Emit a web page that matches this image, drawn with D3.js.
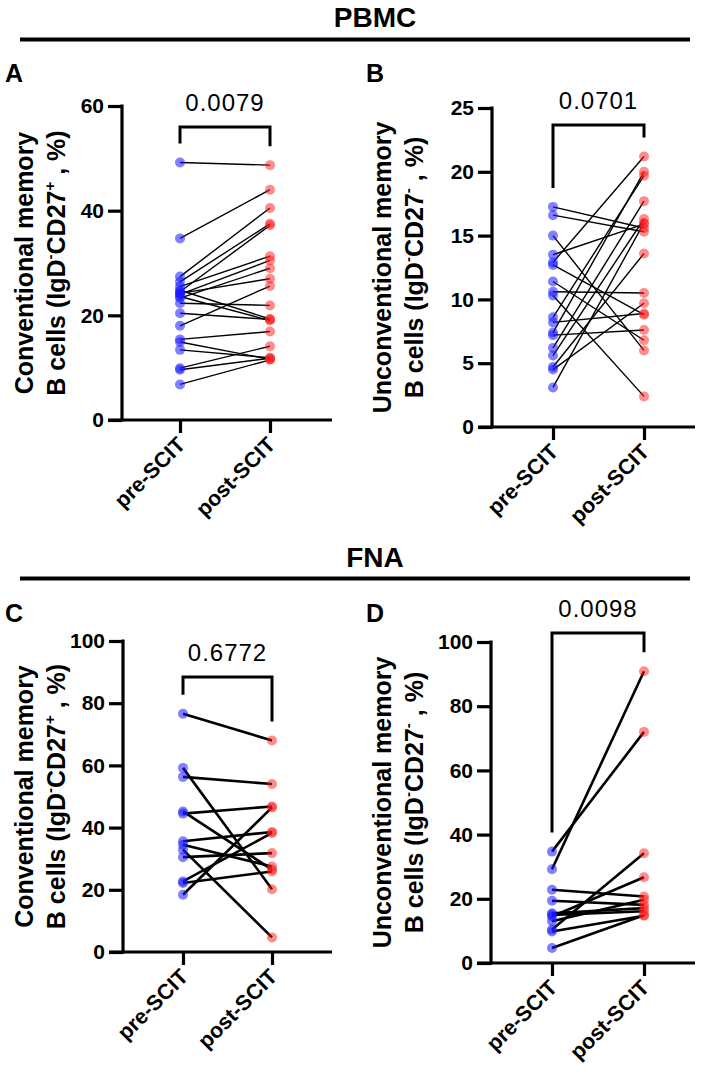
<!DOCTYPE html>
<html><head><meta charset="utf-8">
<script src="https://cdn.jsdelivr.net/npm/d3@7"></script>
<style>body{margin:0;background:#fff}svg{display:block}text{font-family:"Liberation Sans",Arial,sans-serif}</style>
</head><body>
<script>
const groups = ["pre-SCIT", "post-SCIT"];
const sectionTitles = ["PBMC", "FNA"];
const panelLetters = ["A", "B", "C", "D"];
const pValues = ["0.0079", "0.0701", "0.6772", "0.0098"];
const yMaxes = [60, 25, 100, 100];
const yTickSteps = [20, 5, 20, 20];
const yLabelLine1 = ["Conventional memory", "Unconventional memory", "Conventional memory", "Unconventional memory"];
const yLabelSign = ["+", "-", "+", "-"];

const aPre  = [49.2, 34.7, 27.4, 26.4, 25.5, 24.5, 24.2, 24.0, 23.3, 24.8, 22.3, 23.6, 20.4, 18.0, 15.4, 14.9, 13.4, 9.9, 9.6, 6.8];
const aPost = [48.7, 44.0, 40.5, 37.5, 31.3, 37.2, 27.0, 30.5, 29.0, 19.3, 21.9, 19.0, 19.2, 25.6, 16.9, 11.6, 11.9, 14.1, 11.8, 11.5];
const bPre  = [17.25, 16.6, 15.0, 13.5, 12.9, 12.7, 11.4, 10.6, 10.3, 8.6, 8.2, 7.4, 7.2, 6.2, 5.6, 4.7, 4.5, 3.1];
const bPost = [15.6, 15.3, 6.0, 15.9, 21.2, 8.8, 6.8, 10.5, 2.4, 19.7, 8.9, 20.0, 7.6, 17.7, 16.3, 13.6, 9.7, 16.0];
const cPre  = [76.6, 59.2, 56.3, 45.2, 44.5, 35.6, 34.5, 32.9, 30.5, 22.7, 22.2, 18.4];
const cPost = [68.0, 20.2, 54.0, 26.5, 46.8, 38.6, 27.5, 4.7, 31.8, 38.3, 25.9, 46.5];
const dPre  = [34.7, 29.2, 22.8, 19.4, 15.5, 15.0, 14.5, 13.0, 10.4, 9.8, 4.7];
const dPost = [72.0, 90.9, 20.7, 18.1, 17.1, 16.1, 26.7, 19.7, 34.2, 14.7, 14.9];
const preSeries = [aPre, bPre, cPre, dPre];
const postSeries = [aPost, bPost, cPost, dPost];

// layout (pixels)
const W = 709, H = 1083;
const layout = [
  {ax: 122, y0: 420, yTop: 106, pre: 180, post: 270, xEnd: 332, br: 127, lab: [5, 82], yl: [33, 65], lw: 1.4},
  {ax: 492, y0: 427, yTop: 108, pre: 553, post: 644, xEnd: 695, br: 125, lab: [366, 82], yl: [391, 423], lw: 1.4},
  {ax: 123, y0: 952, yTop: 641, pre: 183, post: 272, xEnd: 332, br: 677, lab: [5, 622], yl: [33, 65], lw: 2.6},
  {ax: 491, y0: 963, yTop: 642, pre: 552, post: 644, xEnd: 695, br: 633, lab: [366, 622], yl: [391, 423], lw: 2.6}
];
const sections = [{y: 27, line: 39.5}, {y: 567, line: 578.5}];

const svg = d3.select("body").append("svg").attr("width", W).attr("height", H);

sections.forEach((s, i) => {
  svg.append("text").attr("x", 375).attr("y", s.y).attr("text-anchor", "middle")
    .attr("font-size", 28).attr("font-weight", "bold").text(sectionTitles[i]);
  svg.append("line").attr("x1", 20).attr("x2", 690).attr("y1", s.line).attr("y2", s.line)
    .attr("stroke", "#000").attr("stroke-width", 4);
});

layout.forEach((L, i) => {
  const g = svg.append("g");
  const y = d3.scaleLinear().domain([0, yMaxes[i]]).range([L.y0, L.yTop]);
  const x = d3.scalePoint().domain(groups).range([L.pre, L.post]);
  const ticks = d3.range(0, yMaxes[i] + 0.001, yTickSteps[i]);

  // panel letter
  g.append("text").attr("x", L.lab[0]).attr("y", L.lab[1]).attr("font-size", 25)
    .attr("font-weight", "bold").text(panelLetters[i]);

  // y axis
  const ya = g.append("g").attr("transform", `translate(${L.ax},0)`)
    .call(d3.axisLeft(y).tickValues(ticks).tickFormat(d3.format("d")).tickSize(14).tickSizeOuter(0).tickPadding(4));
  ya.select(".domain").attr("d", `M0,${L.y0 + 1.5}V${L.yTop - 1.5}`).style("stroke", "#000").style("stroke-width", "3.2px");
  ya.selectAll(".tick line").style("stroke", "#000").style("stroke-width", "3.2px");
  ya.selectAll(".tick text").attr("font-size", 21).attr("font-weight", "bold")
    .attr("font-family", '"Liberation Sans",Arial,sans-serif').attr("fill", "#000");

  // x axis
  g.append("line").attr("x1", L.ax - 14).attr("x2", L.xEnd).attr("y1", L.y0).attr("y2", L.y0)
    .style("stroke", "#000").style("stroke-width", "3.2px");
  const xa = g.append("g").attr("transform", `translate(0,${L.y0})`)
    .call(d3.axisBottom(x).tickSize(13).tickSizeOuter(0));
  xa.select(".domain").remove();
  xa.selectAll(".tick line").style("stroke", "#000").style("stroke-width", "3.2px");
  xa.selectAll(".tick text")
    .attr("font-size", 21.5).attr("font-weight", "bold")
    .attr("font-family", '"Liberation Sans",Arial,sans-serif').attr("fill", "#000")
    .attr("text-anchor", "end").attr("y", 0).attr("dy", 0)
    .attr("transform", "translate(6,26) rotate(-45)");

  // y label
  const cy = (L.y0 + L.yTop) / 2;
  g.append("text").attr("transform", `translate(${L.yl[0]},${cy}) rotate(-90)`)
    .attr("text-anchor", "middle").attr("font-size", 25).attr("font-weight", "bold")
    .text(yLabelLine1[i]);
  const t2 = g.append("text").attr("transform", `translate(${L.yl[1]},${cy}) rotate(-90)`)
    .attr("text-anchor", "middle").attr("font-size", 25).attr("font-weight", "bold");
  t2.append("tspan").text("B cells (IgD");
  t2.append("tspan").attr("font-size", 15).attr("dy", -10).text("-");
  t2.append("tspan").attr("dy", 10).text("CD27");
  t2.append("tspan").attr("font-size", 15).attr("dy", -10).text(yLabelSign[i]);
  t2.append("tspan").attr("dy", 10).text(" , %)");

  // pair lines
  const pre = preSeries[i], post = postSeries[i];
  const pairs = pre.map((v, k) => [v, post[k]]);
  g.append("g").selectAll("line").data(pairs).join("line")
    .attr("x1", x(groups[0])).attr("x2", x(groups[1]))
    .attr("y1", d => y(d[0])).attr("y2", d => y(d[1]))
    .attr("stroke", "#000").attr("stroke-width", L.lw);

  // dots
  g.append("g").selectAll("circle").data(pre).join("circle")
    .attr("cx", x(groups[0])).attr("cy", d => y(d)).attr("r", 5)
    .attr("fill", "#1a1aff").attr("fill-opacity", 0.55);
  g.append("g").selectAll("circle").data(post).join("circle")
    .attr("cx", x(groups[1])).attr("cy", d => y(d)).attr("r", 5)
    .attr("fill", "#ff1a1a").attr("fill-opacity", 0.5);

  // bracket
  const legL = y(d3.max(pre)) - 19, legR = y(d3.max(post)) - 19;
  g.append("path")
    .attr("d", `M${x(groups[0])},${legL}V${L.br}H${x(groups[1])}V${legR}`)
    .attr("fill", "none").attr("stroke", "#000").attr("stroke-width", 3);
  g.append("text").attr("x", (x(groups[0]) + x(groups[1])) / 2).attr("y", L.br - 16)
    .attr("text-anchor", "middle").attr("font-size", 24).attr("letter-spacing", 1).text(pValues[i]);
});
</script>
</body></html>
